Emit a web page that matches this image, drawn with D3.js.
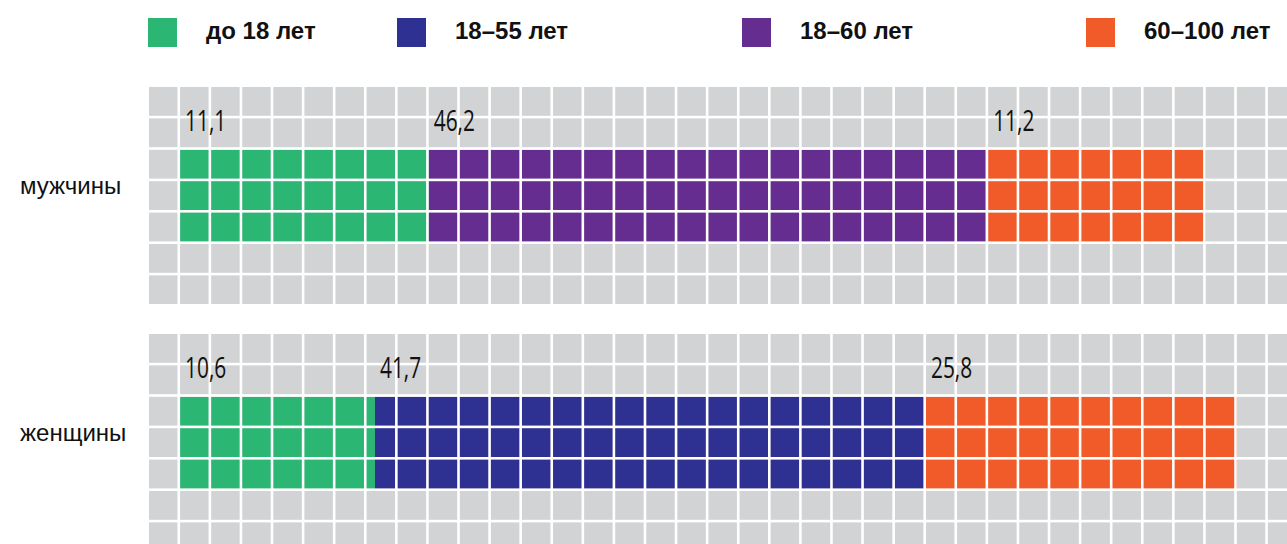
<!DOCTYPE html>
<html>
<head>
<meta charset="utf-8">
<script src="https://cdn.jsdelivr.net/npm/d3@7"></script>
<style>
  body { margin: 0; background: #fff; }
  svg { display: block; }
</style>
</head>
<body>
<div id="chart"></div>
<script>
// Legend categories and their colours
const categories = ["до 18 лет", "18–55 лет", "18–60 лет", "60–100 лет"];
const colors = ["#2bb673", "#2e3192", "#662d91", "#f15a29"];

// Groups (rows)
const groups = ["мужчины", "женщины"];

// Men: segment categories, labelled values, width in grid cells
const menKeys = ["до 18 лет", "18–60 лет", "60–100 лет"];
const menValues = [11.1, 46.2, 11.2];
const menCells = [8, 18, 7];

// Women
const womenKeys = ["до 18 лет", "18–55 лет", "60–100 лет"];
const womenValues = [10.6, 41.7, 25.8];
const womenCells = [6.27, 17.73, 10];

const width = 1287, height = 544;
const gridLeft = 149, colPitch = 31.08, rowPitch = 31.4, gap = 2.6;
const nCols = 37, nRows = 7;
const groupTops = [87, 334];
const legendX = [148, 397, 742, 1086];

const color = d3.scaleOrdinal().domain(categories).range(colors);
const fmt = d3.formatLocale({ decimal: ",", thousands: " ", grouping: [3], currency: ["", ""] }).format(".1f");

const svg = d3.select("#chart")
    .append("svg")
    .attr("width", width)
    .attr("height", height);

// Legend
const legend = svg.append("g");
categories.forEach(function (c, i) {
    legend.append("rect")
        .attr("x", legendX[i])
        .attr("y", 18)
        .attr("width", 29)
        .attr("height", 29)
        .attr("fill", color(c));
    legend.append("text")
        .attr("x", legendX[i] + 58)
        .attr("y", 39)
        .attr("font-family", "Liberation Sans, Arial, sans-serif")
        .attr("font-weight", "bold")
        .attr("font-size", "24px")
        .attr("fill", "#111")
        .text(c);
});

const x = d3.scaleLinear()
    .domain([0, nCols])
    .range([gridLeft, gridLeft + nCols * colPitch]);

const rowData = [
    { name: groups[0], keys: menKeys, values: menValues, cells: menCells },
    { name: groups[1], keys: womenKeys, values: womenValues, cells: womenCells }
];

rowData.forEach(function (row, gi) {
    const top = groupTops[gi];
    const y = d3.scaleLinear()
        .domain([0, nRows])
        .range([top, top + nRows * rowPitch]);

    const g = svg.append("g");

    // grey grid background
    g.append("rect")
        .attr("x", x(0))
        .attr("y", y(0))
        .attr("width", x(nCols) - x(0))
        .attr("height", y(nRows) - y(0) - gap)
        .attr("fill", "#d1d3d4");

    // stacked segments, starting at column 1, rows 2..5
    let start = 1;
    const segs = row.cells.map(function (c, i) {
        const s = { key: row.keys[i], value: row.values[i], x0: start, x1: start + c };
        start += c;
        return s;
    });

    g.selectAll(".seg")
        .data(segs)
        .enter()
        .append("rect")
        .attr("x", d => x(d.x0))
        .attr("y", y(2))
        .attr("width", d => x(d.x1) - x(d.x0))
        .attr("height", y(5) - y(2))
        .attr("fill", d => color(d.key));

    // white grid lines
    g.selectAll(".vline")
        .data(d3.range(1, nCols + 1))
        .enter()
        .append("rect")
        .attr("x", d => x(d) - gap)
        .attr("y", y(0))
        .attr("width", gap)
        .attr("height", y(nRows) - y(0))
        .attr("fill", "#fff");

    g.selectAll(".hline")
        .data(d3.range(1, nRows + 1))
        .enter()
        .append("rect")
        .attr("x", x(0))
        .attr("y", d => y(d) - gap)
        .attr("width", x(nCols) - x(0))
        .attr("height", gap)
        .attr("fill", "#fff");

    // value labels (condensed look via horizontal squeeze)
    g.selectAll(".val")
        .data(segs)
        .enter()
        .append("text")
        .attr("transform", d => `translate(${x(d.x0) + 5},${top + 44}) scale(0.72,1)`)
        .attr("font-family", "Open Sans, Liberation Sans, sans-serif")
        .attr("font-size", "29px")
        .attr("fill", "#111")
        .text(d => fmt(d.value));

    // group label
    g.append("text")
        .attr("x", 20)
        .attr("y", top + 107)
        .attr("font-family", "Liberation Sans, Arial, sans-serif")
        .attr("font-size", "24px")
        .attr("fill", "#111")
        .text(row.name);
});
</script>
</body>
</html>
